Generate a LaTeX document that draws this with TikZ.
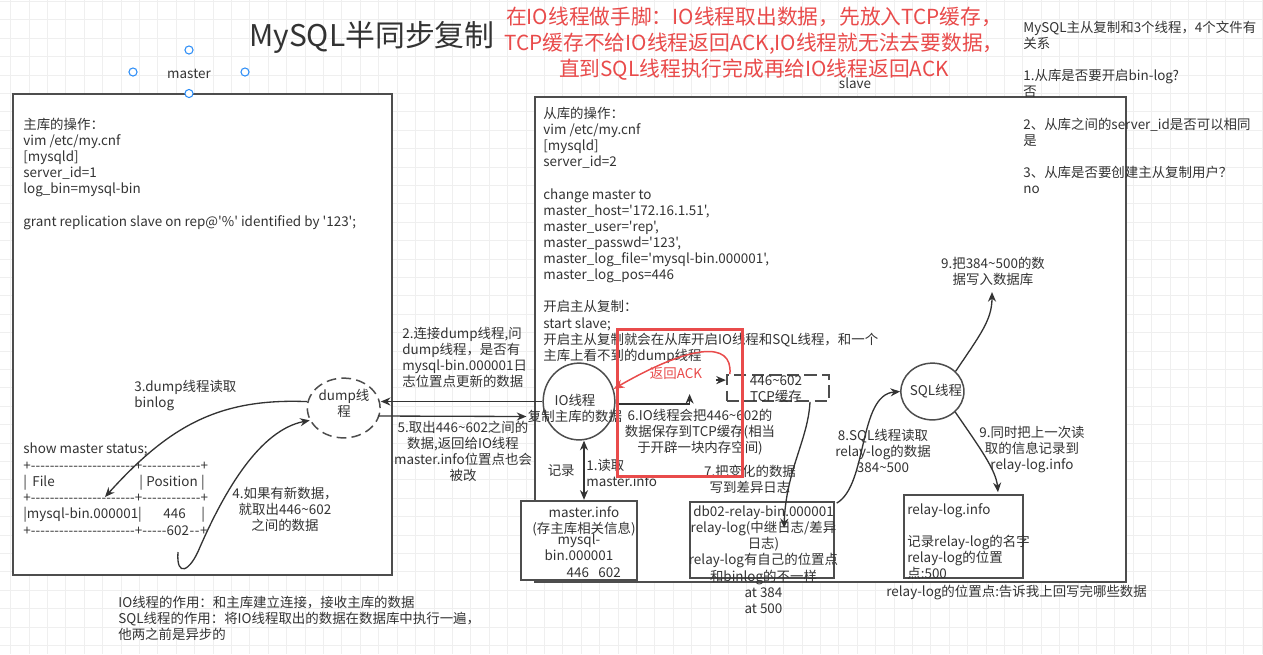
\documentclass[tikz,border=0pt]{standalone}
\usepackage{fontspec}
\newfontfamily\cjk{Noto Sans CJK SC}
\usetikzlibrary{arrows.meta,calc,shapes.geometric}
\definecolor{textgray}{HTML}{333333}
\definecolor{linegray}{HTML}{4D4D4D}
\definecolor{gridgray}{HTML}{EFEFEF}
\definecolor{hookred}{HTML}{E94B4B}
\definecolor{handleblue}{HTML}{2A8CF7}
\newcommand{\bodyfont}{\cjk\fontsize{7.65pt}{9.18pt}\selectfont}
\newcommand{\redfont}{\cjk\fontsize{11.8pt}{14.74pt}\selectfont}
\newcommand{\titlefont}{\cjk\fontsize{17pt}{20pt}\selectfont}
\newcommand{\tld}{\textasciitilde}
\newcommand{\dashrun}[1]{\hbox to #1{\xleaders\hbox{-}\hfill}}

\begin{document}
\begin{tikzpicture}[x=0.02cm,y=-0.02cm,
  frame/.style={draw=linegray,line width=1.13pt,fill=white},
  thread/.style={ellipse,draw=linegray,line width=0.85pt,fill=white,inner sep=0},
  txt/.style={inner sep=0,anchor=north west,align=left,font=\bodyfont,
    text=textgray,execute at begin node=\strut},
  ctxt/.style={txt,anchor=north,align=center},
  lbl/.style={inner sep=0,anchor=base,font=\bodyfont,text=textgray},
  row/.style={lbl,anchor=base west},
  flow/.style={-{Stealth[length=5.5pt,width=4.6pt]},line width=0.75pt,textgray},
  handle/.style={circle,draw=handleblue,fill=white,line width=0.6pt,
    minimum size=4.6pt,inner sep=0}]

\useasboundingbox (0,0) rectangle (1263,654);
\fill[white] (0,0) rectangle (1263,654);
\foreach \gx in {0,...,68}
  \draw[gridgray,line width=0.35pt] ({10.6+18.4*\gx},0) -- ++(0,654);
\foreach \gy in {0,...,35}
  \draw[gridgray,line width=0.35pt] (0,{1.2+18.4*\gy}) -- ++(1263,0);

% titles
\node[inner sep=0,anchor=base,font=\titlefont,text=textgray] (title) at (372,46)
  {MySQL半同步复制};
\node[inner sep=0,anchor=north,align=center,font=\redfont,text=hookred,
  execute at begin node=\strut] (hooknote) at (754,6.7)
  {在IO线程做手脚：IO线程取出数据，先放入TCP缓存，\\
   TCP缓存不给IO线程返回ACK,IO线程就无法去要数据，\\
   直到SQL线程执行完成再给IO线程返回ACK};

% master side
\node[lbl] (masterlbl) at (189,78) {master};
\node[handle] (h1) at (189,50) {};
\node[handle] (h2) at (133,72) {};
\node[handle] (h3) at (245,72) {};
\draw[frame] (13,94) rectangle (392,575);
\node[handle] (h4) at (189,93.5) {};
\node[txt] (masterops) at (23,117.7)
  {主库的操作：\\vim /etc/my.cnf\\{[mysqld]}\\server\_id=1\\log\_bin=mysql-bin\\ \mbox{}\\
   grant replication slave on rep@'\%' identified by '123';};
\node[row] (status) at (23,453) {show master status;};
\node[row] (rule1) at (23,470) {+\dashrun{2.08cm}+\dashrun{1.17cm}+};
\node[row] (colfile) at (23,486) {|\hspace{0.4em}File};
\node[row] (colpos) at (139,486) {|\hspace{0.25em}Position\hspace{0.25em}|};
\node[row] (rule2) at (23,502) {+\dashrun{2.08cm}+\dashrun{1.17cm}+};
\node[row] (valfile) at (23,518) {|mysql-bin.000001|};
\node[row] (valpos) at (163,518) {446};
\node[row] (valend) at (201,518) {|};
\node[row] (rule3) at (23,535) {+\dashrun{2.08cm}+\dashrun{0.49cm}602\dashrun{0.22cm}+};
\node[txt] (step3) at (134,380) {3.dump线程读取\\binlog};
\node[ctxt] (step4) at (285,487) {4.如果有新数据，\\就取出446\tld602\\之间的数据};
\node[thread,dashed,dash pattern=on 5.5pt off 3pt,minimum width=41.4pt,
  minimum height=34pt] (dump) at (343.7,408) {};
\node[ctxt] (dumptext) at (344,388.8) {dump线\\程};
\coordinate (filerow) at (105,497);
\coordinate (newdata) at (178,552);
\draw[flow] (dump.170) .. controls (220,398) and (170,425) .. (filerow);
\draw[flow] (newdata) .. controls (176,578) and (190,572) .. (200,547)
  .. controls (225,490) and (260,430) .. (dump.200);

% slave side
\node[lbl] (slavelbl) at (855,88.5) {slave};
\draw[frame] (535,97) rectangle (1126,582);
\node[txt] (slaveops) at (543,106.7)
  {从库的操作：\\vim /etc/my.cnf\\{[mysqld]}\\server\_id=2\\ \mbox{}\\
   change master to\\master\_host='172.16.1.51',\\master\_user='rep',\\
   master\_passwd='123',\\master\_log\_file='mysql-bin.000001',\\master\_log\_pos=446\\ \mbox{}\\
   开启主从复制：\\start slave;\\开启主从复制就会在从库开启IO线程和SQL线程，和一个\\
   主库上看不到的dump线程};
\node[txt] (questions) at (1023,20.5)
  {MySQL主从复制和3个线程，4个文件有\\关系\\ \mbox{}\\
   1.从库是否要开启bin-log?\\否\\ \mbox{}\\
   2、从库之间的server\_id是否可以相同\\是\\ \mbox{}\\
   3、从库是否要创建主从复制用户？\\no};

\node[thread,minimum width=40.8pt,minimum height=43.7pt] (io) at (579,401.5) {};
\node[ctxt] (iotext) at (575,393.8) {IO线程\\复制主库的数据};
\node[frame,dashed,dash pattern=on 7pt off 3pt,minimum width=58.2pt,
  minimum height=14.7pt,inner sep=0] (tcp) at (778,388) {};
\node[ctxt] (tcptext) at (776,375) {446\tld602\\TCP缓存};
\node[thread,minimum width=35.9pt,minimum height=32.3pt] (sql) at (932.4,391.5) {};
\node[lbl] (sqltext) at (936,395) {SQL线程};

\node[frame,minimum width=66.1pt,minimum height=45pt,inner sep=0] (minfo) at (579,540.3) {};
\node[ctxt] (minfotext) at (584,506.5) {master.info\\(存主库相关信息)};
\node[ctxt] (minfopos) at (579,533.8) {mysql-\\bin.000001\\\hspace*{2.2em}446\hspace{0.7em}602};
\node[frame,minimum width=81.6pt,minimum height=43.1pt,inner sep=0] (relay) at (762,540) {};
\node[ctxt] (relaytext) at (763.5,505.5)
  {db02-relay-bin.000001\\relay-log(中继日志/差异\\日志)\\relay-log有自己的位置点\\
   和binlog的不一样\\at 384\\at 500};
\node[frame,minimum width=67.5pt,minimum height=47pt,inner sep=0] (rinfo) at (963.5,536.5) {};
\node[txt] (rinfotext) at (907,502.8)
  {relay-log.info\\ \mbox{}\\记录relay-log的名字\\relay-log的位置\\点:500};
\node[row] (rinfonote) at (886,596.8) {relay-log的位置点:告诉我上回写完哪些数据};

% between master and slave
\node[txt] (step2) at (402,326.7)
  {2.连接dump线程,问\\dump线程，是否有\\mysql-bin.000001日\\志位置点更新的数据};
\node[ctxt] (step5) at (463,420.7)
  {5.取出446\tld602之间的\\数据,返回给IO线程\\master.info位置点也会\\被改};
\draw[flow] (io.west) -- (io.west -| dump.east);
\draw[flow] ($(dump.east)+(-3,8)$) -- ($(io.west)+(-16,15)$);

% slave flows
\draw[{Stealth[length=5.5pt,width=4.6pt]}-{Stealth[length=5.5pt,width=4.6pt]},
  line width=0.75pt,textgray] ($(io.south)+(5,0)$) -- ($(minfo.north)+(5,0)$);
\node[lbl,anchor=base east] (record) at (575,475) {记录};
\node[txt] (step1) at (586,458.8) {1.读取\\master.info};
\draw[flow] ($(io.east)+(0,2.5)$) -- ++(74,0) -- ++(0,-10);
\draw[flow] ($(tcp.north west)+(-10,6)$) -- ($(tcp.north west)+(0,6)$);
\node[ctxt] (step6) at (700,408.8)
  {6.IO线程会把446\tld602的\\数据保存到TCP缓存(相当\\于开辟一块内存空间)};
\node[ctxt] (step7) at (750,464.5) {7.把变化的数据\\写到差异日志};
\draw[flow] ($(tcp.south)+(32,0)$) .. controls (808,440) and (786,470)
  .. ($(relay.north)+(22,27)$);
\draw[flow] ($(relay.north east)+(2,2)$) .. controls (868,485) and (858,395) .. (sql.west);
\node[ctxt] (step8) at (883,428.8) {8.SQL线程读取\\relay-log的数据\\384\tld500};
\coordinate (dbwrite) at (992,292);
\draw[flow] (sql.41) .. controls (980,335) and (992,320) .. (dbwrite);
\node[ctxt] (step9a) at (993,256.8) {9.把384\tld500的数\\据写入数据库};
\draw[flow] (sql.-42) .. controls (980,448) and (996,470) .. ($(rinfo.north)+(34.5,-2)$);
\node[ctxt] (step9b) at (1032,425.8) {9.同时把上一次读\\取的信息记录到\\relay-log.info};

% the hook
\draw[hookred,line width=1.7pt] (617,329) rectangle (742,476);
\draw[-{Stealth[length=6pt,width=5pt]},hookred,line width=0.85pt]
  ($(tcp.north west)+(4,0)$) .. controls (733,340) and (690,345) .. (io.20);
\node[lbl,text=hookred] (ack) at (676,378) {返回ACK};

% notes
\node[txt] (threadnote) at (118,595.5)
  {IO线程的作用：和主库建立连接，接收主库的数据\\
   SQL线程的作用：将IO线程取出的数据在数据库中执行一遍，\\
   他两之前是异步的};
\end{tikzpicture}
\end{document}
